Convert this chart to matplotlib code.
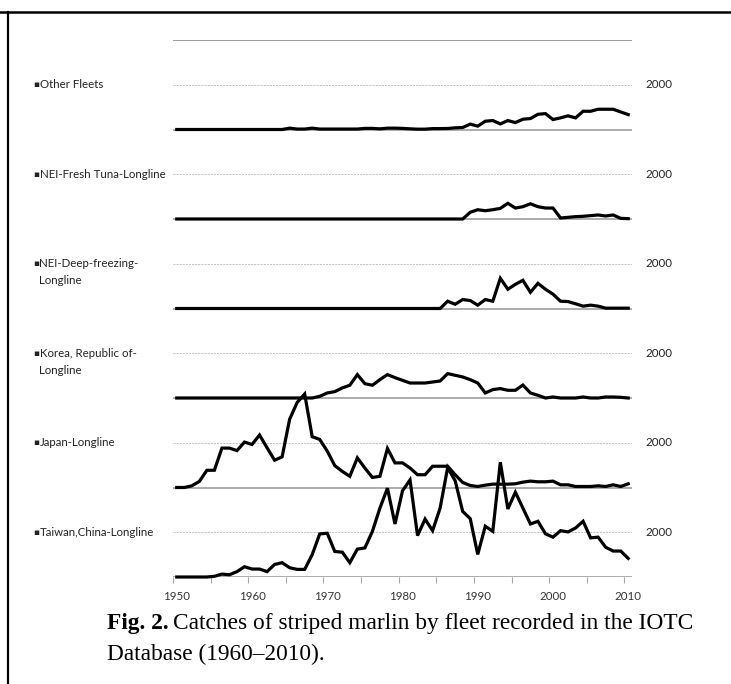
import matplotlib
matplotlib.use("Agg")
import matplotlib.pyplot as plt
import matplotlib.transforms as mtransforms
from matplotlib.lines import Line2D

years = list(range(1950, 2011))

fleet_names = ["Taiwan,China-Longline", "Japan-Longline", "Korea, Republic of-\nLongline",
               "NEI-Deep-freezing-\nLongline", "NEI-Fresh Tuna-Longline", "Other Fleets"]

taiwan = [0, 0, 0, 0, 0,
          30, 130, 100, 240, 460,
          355, 355, 240, 560, 640,
          415, 340, 340, 1000, 1925,
          1955, 1140, 1110, 640, 1245,
          1300, 2040, 3080, 3970, 2370,
          3850, 4340, 1850, 2590, 2070,
          3080, 4890, 4300, 2930, 2610,
          1010, 2270, 2040, 5130, 3040,
          3790, 3080, 2370, 2490, 1930,
          1780, 2070, 2015, 2190, 2490,
          1750, 1780, 1330, 1160, 1160,
          830]

japan = [0, 0, 75, 270, 770,
         770, 1760, 1760, 1650, 2030,
         1925, 2345, 1775, 1220, 1370,
         3050, 3800, 4180, 2270, 2150,
         1625, 980, 720, 500, 1325,
         870, 450, 500, 1745, 1100,
         1100, 870, 570, 570, 950,
         950, 950, 570, 225, 90,
         45, 105, 150, 150, 150,
         165, 240, 285, 255, 255,
         285, 120, 120, 45, 45,
         45, 75, 45, 120, 45,
         165]

korea = [0] * 19 + [75,
         225, 285, 450, 570, 1045,
         640, 570, 820, 1045, 910,
         790, 670, 670, 670, 715,
         760, 1090, 1015, 940, 820,
         670, 225, 375, 420, 345,
         345, 580, 225, 120, 0,
         45, 0, 0, 0, 45,
         0, 0, 45, 45, 30,
         0]

nei_deep = [0] * 36 + [325, 190, 400, 355,
            150, 400, 325, 1350, 860,
            1080, 1260, 725, 1125, 860,
            640, 325, 310, 210, 105,
            150, 105, 15, 15, 15,
            15]

nei_fresh = [0] * 39 + [300,
             415, 370, 415, 475, 700,
             490, 550, 680, 550, 490,
             490, 45, 75, 105, 120,
             150, 180, 135, 180, 30,
             15]

other = [0] * 15 + [60, 20, 20, 60, 20,
         20, 20, 20, 20, 20,
         50, 50, 30, 60, 60,
         50, 30, 15, 15, 40,
         40, 45, 75, 90, 240,
         150, 370, 400, 250, 400,
         310, 460, 490, 680, 710,
         445, 520, 610, 520, 815,
         815, 905, 905, 905, 785,
         665]

series = [taiwan, japan, korea, nei_deep, nei_fresh, other]
panel_step = 4000
ref_value = 2000
x_ticks = [1950, 1960, 1970, 1980, 1990, 2000, 2010]

W, H = 731, 684
fig = plt.figure(figsize=(W / 100, H / 100), dpi=100)
ax = fig.add_axes([173 / W, 1 - 577 / H, (632 - 173) / W, (577 - 40) / H])
ax.set_xlim(1949.5, 2010.5)
ax.set_ylim(0, panel_step * len(series))
for s in ax.spines.values():
    s.set_visible(False)
ax.set_yticks([])

label_font = ["Lato", "DejaVu Sans"]
lab_size = 8.3

# grid / baselines
for k in range(len(series)):
    off = k * panel_step
    ax.axhline(off, color="#a6a6a6", lw=1.3, zorder=1)
    ax.axhline(off + ref_value, color="#bdbdbd", lw=0.7, ls=(0, (2, 1.2)), zorder=1)
ax.axhline(panel_step * len(series), color="#8c8c8c", lw=1.2, zorder=1)

for k, vals in enumerate(series):
    off = k * panel_step
    ax.plot(years, [v + off for v in vals], color="black", lw=2.3,
            solid_joinstyle="miter", zorder=3, clip_on=False)

# x axis ticks
ax.set_xticks(x_ticks)
ax.set_xticks([1949.5 + 5 * i for i in range(13)], minor=True)
ax.tick_params(axis="x", which="major", length=0, pad=10, labelsize=lab_size, colors="#333333")
ax.tick_params(axis="x", which="minor", length=4, width=0.8, color="#a6a6a6")
for lab in ax.get_xticklabels():
    lab.set_family(label_font)

# labels left and right
trans = mtransforms.blended_transform_factory(fig.transFigure, ax.transData)
line_gap = 17 / 45 * ref_value
for k, name in enumerate(fleet_names):
    y = k * panel_step + ref_value
    lines = name.split("\n")
    ax.text(33 / W, y, "\u25aa", transform=trans, ha="left", va="center",
            fontsize=6.5, family=["DejaVu Sans"], color="#222222")
    for j, ln in enumerate(lines):
        ax.text(39.5 / W, y - j * line_gap, ln, transform=trans, ha="left", va="center",
                fontsize=lab_size, family=label_font, color="#222222")
    ax.text(645 / W, y, str(ref_value), transform=trans, ha="left", va="center",
            fontsize=lab_size, family=label_font, color="#222222")

# frame lines
fig.add_artist(Line2D([0, 1], [1 - 12 / H, 1 - 12 / H], transform=fig.transFigure,
                      color="black", lw=1.8))
fig.add_artist(Line2D([8 / W, 8 / W], [0, 1 - 12 / H], transform=fig.transFigure,
                      color="black", lw=1.6))

# caption
serif = ["Liberation Serif", "DejaVu Serif"]
cap_size = 16.8
t1 = fig.text(107 / W, 1 - 629 / H, "Fig. 2.", fontsize=cap_size, fontweight="bold",
              family=serif, ha="left", va="baseline")
fig.canvas.draw()
bb = t1.get_window_extent()
fig.text((bb.x1 + 4.5) / W, 1 - 629 / H,
         "Catches of striped marlin by fleet recorded in the IOTC",
         fontsize=cap_size, family=serif, ha="left", va="baseline")
fig.text(107 / W, 1 - 660 / H, "Database (1960\u20132010).", fontsize=cap_size,
         family=serif, ha="left", va="baseline")

fig.savefig("out.png", dpi=100)
